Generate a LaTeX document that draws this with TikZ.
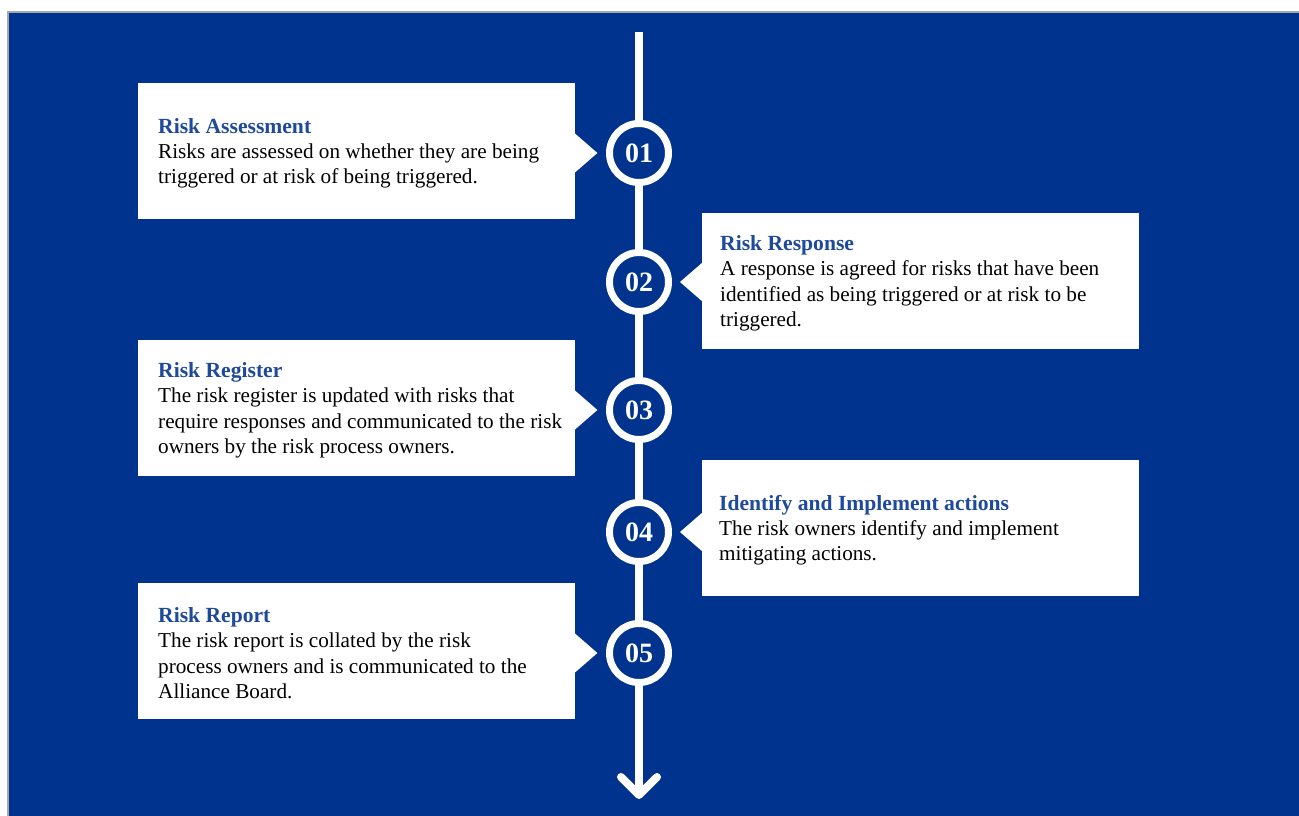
\documentclass[tikz,border=0pt]{standalone}
\usepackage{fontspec}
\setmainfont{Liberation Serif}
\usetikzlibrary{calc}
\definecolor{bg}{HTML}{00338D}
\definecolor{ttl}{HTML}{1F4A9C}
\definecolor{edge}{HTML}{A8A8A8}
\tikzset{
  box/.style={fill=white, draw=none, anchor=north west, minimum width=437pt,
    minimum height=136pt, inner sep=0pt},
  txt/.style={anchor=west, inner sep=0pt, align=left,
    font=\fontsize{21.2}{25.2}\selectfont},
  numc/.style={circle, draw=white, line width=7pt, fill=bg, minimum size=59pt,
    inner sep=0pt, text=white, font=\fontsize{28}{28}\selectfont\bfseries},
  spine/.style={white, line width=8pt},
  pointer/.style={fill=white, draw=none}
}
\newcommand{\boxtitle}[1]{\textcolor{ttl}{\fontsize{21.6}{25.2}\selectfont\textbf{#1}}}
\begin{document}
\begin{tikzpicture}[x=1pt,y=-1pt]
\useasboundingbox (0,0) rectangle (1299,816);
\fill[white] (0,0) rectangle (1299,816);
\fill[bg] (8,12) rectangle (1299,816);
\draw[edge, line width=1.5pt] (8,816) -- (8,12) -- (1299,12);

% spine
\coordinate (top) at (639,32);
\coordinate (bot) at (639,795);
\coordinate (al) at (621,777);
\coordinate (ar) at (657,777);
\node[numc] (c1) at (639,153) {01};
\node[numc] (c2) at (639,282) {02};
\node[numc] (c3) at (639,410) {03};
\node[numc] (c4) at (639,532) {04};
\node[numc] (c5) at (639,653) {05};
\draw[spine] (top) -- (c1);
\draw[spine] (c1) -- (c2);
\draw[spine] (c2) -- (c3);
\draw[spine] (c3) -- (c4);
\draw[spine] (c4) -- (c5);
\draw[spine] (c5) -- (bot);
\draw[spine, line cap=round, line join=round] (al) -- (bot) -- (ar);

% boxes
\node[box] (b1) at (138,83) {};
\node[box] (b2) at (702,213) {};
\node[box] (b3) at (138,340) {};
\node[box] (b4) at (702,460) {};
\node[box] (b5) at (138,583) {};

% texts
\node[txt] (t1) at ($(b1.west)+(20,2)$) {\boxtitle{Risk Assessment}\\
Risks are assessed on whether they are being\\
triggered or at risk of being triggered.};
\node[txt] (t2) at ($(b2.west)+(18,2)$) {\boxtitle{Risk Response}\\
A response is agreed for risks that have been\\
identified as being triggered or at risk to be\\
triggered.};
\node[txt] (t3) at ($(b3.west)+(20,2)$) {\boxtitle{Risk Register}\\
The risk register is updated with risks that\\
require responses and communicated to the risk\\
owners by the risk process owners.};
\node[txt] (t4) at ($(b4.west)+(17,2)$) {\boxtitle{Identify and Implement actions}\\
The risk owners identify and implement\\
mitigating actions.};
\node[txt] (t5) at ($(b5.west)+(20,2)$) {\boxtitle{Risk Report}\\
The risk report is collated by the risk\\
process owners and is communicated to the\\
Alliance Board.};

% pointers
\coordinate (p1) at (b1.east |- c1);
\coordinate (p2) at (b2.west |- c2);
\coordinate (p3) at (b3.east |- c3);
\coordinate (p4) at (b4.west |- c4);
\coordinate (p5) at (b5.east |- c5);
\fill[pointer] ($(p1)+(-1,-20)$) -- ($(p1)+(22,0)$) -- ($(p1)+(-1,20)$) -- cycle;
\fill[pointer] ($(p2)+(1,-20)$) -- ($(p2)+(-22,0)$) -- ($(p2)+(1,20)$) -- cycle;
\fill[pointer] ($(p3)+(-1,-20)$) -- ($(p3)+(22,0)$) -- ($(p3)+(-1,20)$) -- cycle;
\fill[pointer] ($(p4)+(1,-20)$) -- ($(p4)+(-22,0)$) -- ($(p4)+(1,20)$) -- cycle;
\fill[pointer] ($(p5)+(-1,-20)$) -- ($(p5)+(22,0)$) -- ($(p5)+(-1,20)$) -- cycle;
\end{tikzpicture}
\end{document}
